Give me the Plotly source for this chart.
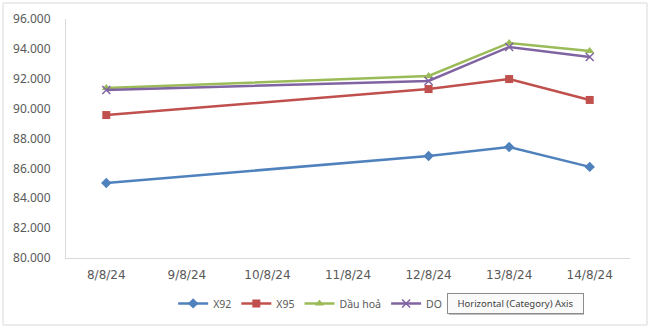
import plotly.graph_objects as go

# Ngày niêm yết giá (trục danh mục)
dates = ["8/8/24", "9/8/24", "10/8/24", "11/8/24", "12/8/24", "13/8/24", "14/8/24"]

# Giá theo từng mặt hàng (None = không có số liệu ngày đó)
x92 = [85020, None, None, None, 86830, 87430, 86100]
x95 = [89570, None, None, None, 91310, 91980, 90580]
dau_hoa = [91380, None, None, None, 92190, 94400, 93860]
do = [91250, None, None, None, 91850, 94130, 93460]

series = [
    ("X92", x92, "#4F81BD", dict(symbol="diamond", size=8)),
    ("X95", x95, "#C0504D", dict(symbol="square", size=8)),
    ("Dầu hoả", dau_hoa, "#9BBB59", dict(symbol="triangle-up", size=8)),
    ("DO", do, "#8064A2", dict(symbol="x-thin", size=8, line=dict(width=1.5, color="#8064A2"))),
]

fig = go.Figure()
for name, vals, color, mk in series:
    marker = dict(color=color, **mk)
    fig.add_trace(go.Scatter(
        x=dates, y=vals, name=name, mode="lines+markers",
        connectgaps=True,
        line=dict(color=color, width=2.5),
        marker=marker,
    ))

font_main = "Noto Sans, Liberation Sans, sans-serif"

fig.update_layout(
    width=650, height=330,
    margin=dict(l=66, r=20, t=19, b=72),
    paper_bgcolor="white", plot_bgcolor="white",
    separators=",.",
    font=dict(family=font_main, size=11, color="#595959"),
    showlegend=True,
    legend=dict(
        orientation="h", x=0.19, xanchor="left", y=-0.19, yanchor="middle",
        font=dict(size=10.5, color="#595959"), itemwidth=30,
        bgcolor="rgba(0,0,0,0)",
    ),
    xaxis=dict(
        type="category", showgrid=False, showline=True, linecolor="#D9D9D9",
        linewidth=1, ticks="", ticklabelstandoff=6, automargin=False,
        tickfont=dict(size=12, color="#595959", family="DejaVu Sans, sans-serif"),
        range=[-0.5, 6.5],
    ),
    yaxis=dict(
        range=[80000, 96000], dtick=2000, tickformat=",.0f",
        showgrid=False, showline=True, linecolor="#D9D9D9", linewidth=1,
        ticks="", ticklabelstandoff=12, zeroline=False, automargin=False,
        tickfont=dict(size=12, color="#595959"),
    ),
    shapes=[
        dict(type="rect", xref="paper", yref="paper",
             x0=(3 - 66) / 564, x1=(647 - 66) / 564,
             y0=(258 - 325) / 239, y1=(258 - 3) / 239,
             line=dict(color="#D9D9D9", width=1), fillcolor="rgba(0,0,0,0)",
             layer="below"),
        # bóng đổ của hộp chú thích trục
        dict(type="rect", xref="paper", yref="paper",
             x0=(449 - 66) / 564, x1=(584 - 66) / 564,
             y0=(258 - 315) / 239, y1=(258 - 295) / 239,
             line=dict(width=0), fillcolor="#BFBFBF", layer="above"),
    ],
    annotations=[
        dict(text="Horizontal (Category) Axis", xref="paper", yref="paper",
             x=(447 - 66) / 564, y=(258 - 303) / 239, xanchor="left", yanchor="middle",
             showarrow=False, font=dict(size=9.5, color="#404040", family=font_main),
             bgcolor="#FAFAFA", bordercolor="#8C8C8C", borderwidth=1, borderpad=2,
             width=131, height=15),
    ],
)

fig.write_html("out.html")
